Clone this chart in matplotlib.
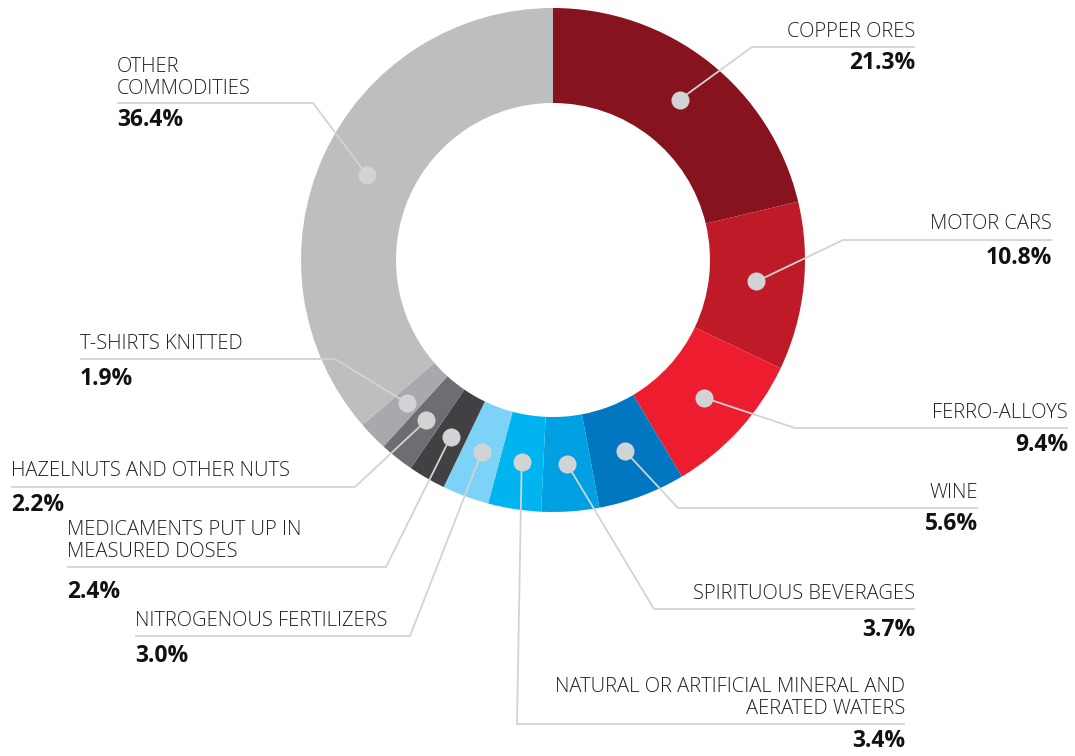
import matplotlib
matplotlib.use("Agg")
import matplotlib.pyplot as plt
import numpy as np

# data
labels = ["COPPER ORES", "MOTOR CARS", "FERRO-ALLOYS", "WINE",
          "SPIRITUOUS BEVERAGES", "NATURAL OR ARTIFICIAL MINERAL AND\nAERATED WATERS",
          "NITROGENOUS FERTILIZERS", "MEDICAMENTS PUT UP IN\nMEASURED DOSES",
          "HAZELNUTS AND OTHER NUTS", "T-SHIRTS KNITTED", "OTHER\nCOMMODITIES"]
values = [21.3, 10.8, 9.4, 5.6, 3.7, 3.4, 3.0, 2.4, 2.2, 1.9, 36.4]
colors = ["#87131f", "#be1a28", "#ed1c2e", "#0077c0", "#00a0e3", "#00b5ef",
          "#7dd3f7", "#414042", "#6d6e71", "#a7a9ac", "#bcbec0"]

# label layout (pixels): side, x of text edge, y of rule, x of bend, y of name, y of pct
layout = [
    ("r", 915, 47, 752, 32, 63),
    ("r", 1052, 240, 843, 224, 258),
    ("r", 1068, 428, 795, 413, 445),
    ("r", 978, 508, 678, 493, 524),
    ("r", 915, 609, 654, 594, 630),
    ("r", 905, 724, 517, 698, 741),
    ("l", 135, 636, 410, 621, 656),
    ("l", 67, 567, 386, 541, 592),
    ("l", 11, 487, 355, 471, 505),
    ("l", 80, 359, 335, 344, 379),
    ("l", 117, 103, 313, 78, 120),
]

W, H = 1075, 756
cx, cy, R, ring = 553, 260, 252, 95
line_col = "#d1d3d4"

plt.rcParams['font.family'] = ['Open Sans', 'DejaVu Sans']

fig = plt.figure(figsize=(W / 100, H / 100), dpi=100)
ax = fig.add_axes([0, 0, 1, 1])

wedges, _ = ax.pie(values, colors=colors, startangle=-90, counterclock=True,
                   radius=R, center=(cx, cy), frame=True,
                   wedgeprops=dict(width=ring, linewidth=0))
ax.set_xlim(0, W)
ax.set_ylim(H, 0)
ax.set_aspect('equal')
ax.axis('off')

rmid = R - ring / 2
for w, lab, pct, lay in zip(wedges, labels, values, layout):
    th = np.deg2rad((w.theta1 + w.theta2) / 2)
    dx, dy = cx + rmid * np.cos(th), cy + rmid * np.sin(th)
    side, tx, ry, bx, ny, py = lay
    ax.plot([dx, bx, tx], [dy, ry, ry], color=line_col, lw=1.3,
            solid_capstyle='butt', zorder=3)
    ax.plot(dx, dy, 'o', ms=13, color=line_col, mec='none', zorder=4)
    ha = 'right' if side == 'r' else 'left'
    ax.text(tx, ny, lab, ha=ha, va='center', fontsize=14.5, fontweight='light',
            color='#231f20', linespacing=1.15, multialignment=ha)
    ax.text(tx, py, f"{pct:.1f}%", ha=ha, va='center', fontsize=16.5,
            fontweight='bold', color='#111111')

fig.savefig("out.png", dpi=100)
